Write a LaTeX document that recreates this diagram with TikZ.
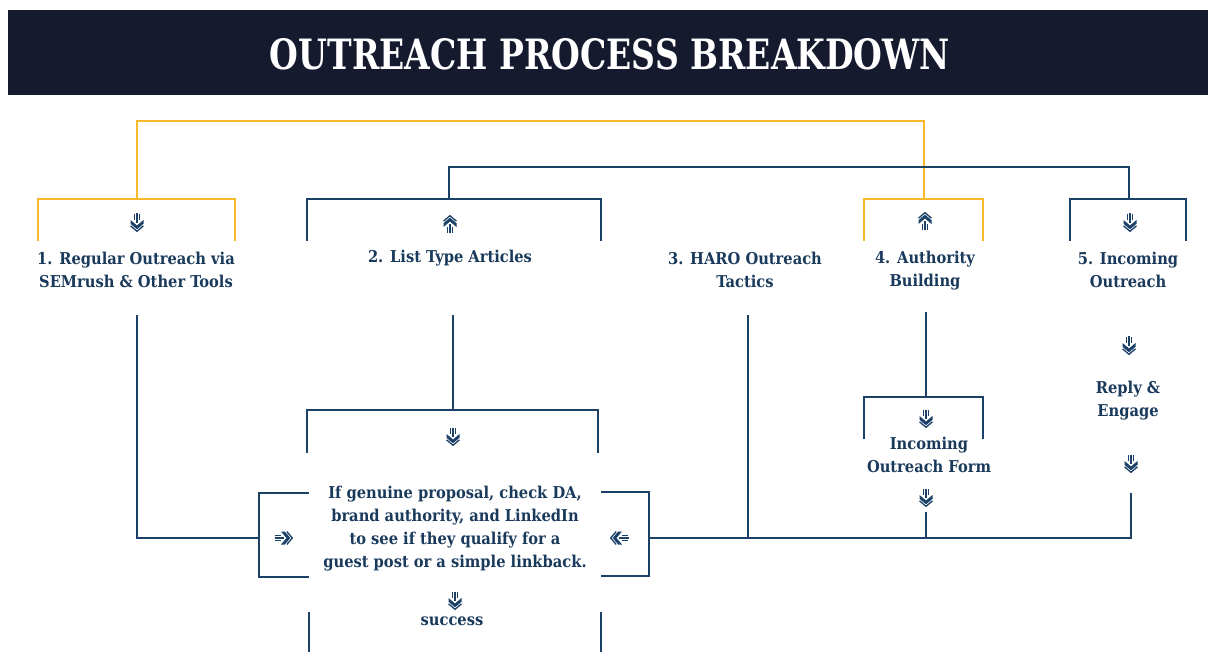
\documentclass[tikz,border=0pt]{standalone}
\usepackage{fontspec}
\setmainfont{DejaVu Serif Condensed}
\definecolor{band}{HTML}{161A2E}
\definecolor{navy}{HTML}{1B4168}
\definecolor{txt}{HTML}{1A3A5C}
\definecolor{gold}{HTML}{F6B927}
\tikzset{
  bl/.style={draw=navy, line width=2pt},
  yl/.style={draw=gold, line width=2pt},
  lbl/.style={text=txt, font=\bfseries\fontsize{16.3}{23}\selectfont, align=center, inner sep=0pt},
  chev/.pic={
    \draw[navy, line width=1.1pt] (-2.4,-8) -- (-2.4,-2) (0,-8.5) -- (0,1) (2.4,-8) -- (2.4,-2);
    \fill[navy] (-6.5,-2) -- (0,3.5) -- (6.5,-2) -- (6.5,1.8) -- (0,7.3) -- (-6.5,1.8) -- cycle;
    \draw[navy, line width=1.3pt] (-6.5,3.8) -- (0,9.3) -- (6.5,3.8);
  }
}
\begin{document}
\begin{tikzpicture}[x=1pt,y=-1pt]
\useasboundingbox (0,0) rectangle (1208,652);
\fill[white] (0,0) rectangle (1208,652);
\fill[band] (8,10) rectangle (1208,95);
\node[text=white, inner sep=0pt] (title) at (610,54) {\resizebox{680pt}{31pt}{\bfseries OUTREACH PROCESS BREAKDOWN}};

% labels
\node[lbl] (n1) at (136,270) {1. Regular Outreach via\\SEMrush \& Other Tools};
\node[lbl] (n2) at (450,258) {2. List Type Articles};
\node[lbl] (n3) at (745,270) {3. HARO Outreach\\Tactics};
\node[lbl] (n4) at (925,271) {4. Authority\\Building};
\node[lbl] (n5) at (1128,270) {5. Incoming\\Outreach};
\node[lbl] (form) at (929,455) {Incoming\\Outreach Form};
\node[lbl] (reply) at (1128,401) {Reply \&\\Engage};
\node[lbl] (main) at (455,529) {If genuine proposal, check DA,\\brand authority, and LinkedIn\\to see if they qualify for a\\guest post or a simple linkback.};
\node[lbl] (succ) at (452,621) {success};

% coordinates
\coordinate (y1) at (137,199); \coordinate (y1t) at (137,121);
\coordinate (y4) at (924,199); \coordinate (y4t) at (924,121);
\coordinate (b2) at (449,199); \coordinate (b2t) at (449,167);
\coordinate (b5) at (1129,199); \coordinate (b5t) at (1129,167);

% yellow connector
\draw[yl] (y1) -- (y1t) -- (y4t) -- (y4);
\draw[yl] (38,241) -- (38,199) -- (235,199) -- (235,241);
\draw[yl] (864,241) -- (864,199) -- (983,199) -- (983,241);

% blue connector
\draw[bl] (b2) -- (b2t) -- (b5t) -- (b5);
\draw[bl] (307,241) -- (307,199) -- (601,199) -- (601,241);
\draw[bl] (1070,241) -- (1070,199) -- (1186,199) -- (1186,241);

% flows
\coordinate (L) at (259,538);
\coordinate (R) at (649,538);
\coordinate (E) at (1131,538);
\draw[bl] (137,315) -- (137,538) -- (L);
\draw[bl] (309,493) -- (259,493) -- (259,577) -- (309,577);
\draw[bl] (453,315) -- (453,410);
\draw[bl] (307,453) -- (307,410) -- (598,410) -- (598,453);
\draw[bl] (601,492) -- (649,492) -- (649,576) -- (601,576);
\draw[bl] (R) -- (E) -- (1131,493);
\draw[bl] (748,315) -- (748,538);
\draw[bl] (926,512) -- (926,538);
\draw[bl] (926,312) -- (926,397);
\draw[bl] (864,439) -- (864,397) -- (983,397) -- (983,439);
\draw[bl] (309,612) -- (309,652);
\draw[bl] (601,612) -- (601,652);

% icons
\pic at (137,222) {chev};
\pic[rotate=180] at (450,225) {chev};
\pic[rotate=180] at (925,222) {chev};
\pic at (1130,222) {chev};
\pic[rotate=90] at (283,538) {chev};
\pic[rotate=-90] at (620,538) {chev};
\pic at (453,436) {chev};
\pic at (926,418) {chev};
\pic at (926,497) {chev};
\pic at (1129,345) {chev};
\pic at (1131,463) {chev};
\pic at (455,600) {chev};
\end{tikzpicture}
\end{document}
